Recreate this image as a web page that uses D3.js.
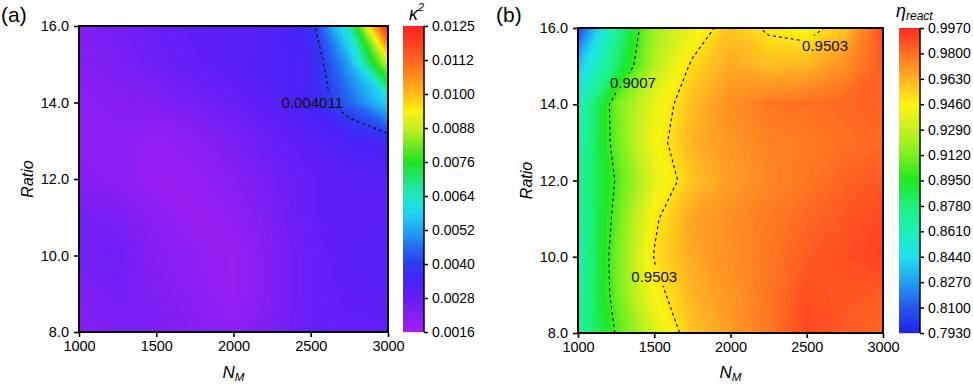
<!DOCTYPE html>
<html lang="en">
<head>
<meta charset="utf-8">
<title>contour maps</title>
<script src="https://cdn.jsdelivr.net/npm/d3@7"></script>
<style>
  body { margin: 0; background: #fff; }
  text { font-family: Arial, "Liberation Sans", sans-serif; }
</style>
</head>
<body>
<svg id="chart" width="973" height="387"></svg>
<script>
// grid of the measurements
var nmValues = [1000, 1250, 1500, 1750, 2000, 2250, 2500, 2750, 3000];
var ratioValues = [8, 9, 10, 11, 12, 13, 14, 15, 16];
var xTicks = [1000, 1500, 2000, 2500, 3000];
var yTicks = [8, 10, 12, 14, 16];

// (a) kappa^2, one row per ratio (8 -> 16), columns follow nmValues
var kappa8  = [0.0022, 0.0024, 0.0024, 0.0022, 0.0020, 0.0024, 0.0027, 0.0028, 0.0028];
var kappa9  = [0.0023, 0.0025, 0.0023, 0.0021, 0.0018, 0.0023, 0.0027, 0.0029, 0.0030];
var kappa10 = [0.0025, 0.0026, 0.0022, 0.0020, 0.0018, 0.0023, 0.0027, 0.0030, 0.0031];
var kappa11 = [0.0025, 0.0024, 0.0021, 0.0018, 0.0020, 0.0024, 0.0028, 0.0030, 0.0030];
var kappa12 = [0.0022, 0.0021, 0.0018, 0.0019, 0.0022, 0.0025, 0.0028, 0.0030, 0.0030];
var kappa13 = [0.0021, 0.0021, 0.0019, 0.0021, 0.0024, 0.0027, 0.0030, 0.0033, 0.0036];
var kappa14 = [0.0021, 0.0022, 0.0023, 0.0025, 0.0027, 0.0030, 0.0035, 0.0045, 0.0058];
var kappa15 = [0.0022, 0.0024, 0.0026, 0.0028, 0.0030, 0.0032, 0.0034, 0.0052, 0.0088];
var kappa16 = [0.0023, 0.0025, 0.0027, 0.0029, 0.0030, 0.0031, 0.0037, 0.0065, 0.0125];
var kappaTicks = [0.0016, 0.0028, 0.0040, 0.0052, 0.0064, 0.0076, 0.0088, 0.0100, 0.0112, 0.0125];
var kappaLevels = [0.004011];

// (b) eta_react
var eta8  = [0.866, 0.902, 0.935, 0.958, 0.968, 0.978, 0.990, 0.985, 0.982];
var eta9  = [0.864, 0.908, 0.945, 0.962, 0.970, 0.978, 0.988, 0.986, 0.985];
var eta10 = [0.862, 0.910, 0.951, 0.965, 0.972, 0.978, 0.985, 0.988, 0.992];
var eta11 = [0.864, 0.906, 0.948, 0.966, 0.972, 0.977, 0.982, 0.986, 0.990];
var eta12 = [0.867, 0.902, 0.938, 0.958, 0.968, 0.974, 0.978, 0.983, 0.986];
var eta13 = [0.862, 0.908, 0.944, 0.962, 0.970, 0.975, 0.977, 0.980, 0.982];
var eta14 = [0.857, 0.910, 0.940, 0.960, 0.972, 0.978, 0.980, 0.982, 0.984];
var eta15 = [0.836, 0.880, 0.925, 0.953, 0.965, 0.960, 0.962, 0.972, 0.985];
var eta16 = [0.805, 0.870, 0.920, 0.940, 0.958, 0.948, 0.944, 0.958, 0.990];
var etaTicks = [0.7930, 0.8100, 0.8270, 0.8440, 0.8610, 0.8780, 0.8950, 0.9120, 0.9290, 0.9460, 0.9630, 0.9800, 0.9970];
var etaLevels = [0.9007, 0.9503];

var svg = d3.select("#chart");
svg.append("rect").attr("width", 973).attr("height", 387).attr("fill", "#fff");

function drawPanel(o) {
  var g = svg.append("g");
  var x = d3.scaleLinear().domain([1000, 3000]).range([o.left, o.right]);
  var y = d3.scaleLinear().domain([8, 16]).range([o.bottom, o.top]);
  var n = nmValues.length, m = ratioValues.length;
  var flat = [].concat.apply([], o.rows);

  // contour grid space -> data space (values sit at cell centres)
  var gx = d3.scaleLinear().domain([0.5, n - 0.5]).range([nmValues[0], nmValues[n - 1]]);
  var gy = d3.scaleLinear().domain([0.5, m - 0.5]).range([ratioValues[0], ratioValues[m - 1]]);
  var path = d3.geoPath(d3.geoTransform({
    point: function(px, py) { this.stream.point(x(gx(px)), y(gy(py))); }
  }));

  var lo = o.ticks[0], hi = o.ticks[o.ticks.length - 1];
  var step = (hi - lo) / 140;
  var thr = d3.range(lo, hi, step);
  var color = d3.scaleLinear().domain(o.stops).range(o.colors).interpolate(d3.interpolateRgb).clamp(true);

  svg.append("clipPath").attr("id", "clip" + o.id)
    .append("rect").attr("x", o.left).attr("y", o.top)
    .attr("width", o.right - o.left).attr("height", o.bottom - o.top);

  var field = g.append("g").attr("clip-path", "url(#clip" + o.id + ")");
  field.append("rect").attr("x", o.left).attr("y", o.top)
    .attr("width", o.right - o.left).attr("height", o.bottom - o.top)
    .attr("fill", color(lo));
  field.selectAll("path.band")
    .data(d3.contours().size([n, m]).thresholds(thr)(flat))
    .enter().append("path")
    .attr("class", "band")
    .attr("d", path)
    .attr("fill", function(d) { return color(d.value + step / 2); })
    .attr("stroke", function(d) { return color(d.value + step / 2); })
    .attr("stroke-width", 0.6);

  // dashed iso-lines, cut where the labels sit
  var mask = svg.append("mask").attr("id", "mask" + o.id)
    .attr("maskUnits", "userSpaceOnUse")
    .attr("x", 0).attr("y", 0).attr("width", 973).attr("height", 387);
  mask.append("rect").attr("width", 973).attr("height", 387).attr("fill", "#fff");

  var lines = field.append("g").attr("mask", "url(#mask" + o.id + ")");
  lines.selectAll("path")
    .data(d3.contours().size([n, m]).thresholds(o.levels)(flat))
    .enter().append("path")
    .attr("d", path)
    .attr("fill", "none")
    .attr("stroke", "#111")
    .attr("stroke-width", 1.2)
    .attr("stroke-dasharray", "3,3");

  o.labels.forEach(function(l) {
    var t = g.append("text")
      .attr("x", x(l.nm)).attr("y", y(l.ratio) + 5)
      .attr("text-anchor", "middle")
      .attr("font-size", 15)
      .attr("fill", "#111")
      .text(l.text);
    var b = t.node().getBBox();
    mask.append("rect").attr("x", b.x - 2).attr("y", b.y - 1)
      .attr("width", b.width + 4).attr("height", b.height + 2).attr("fill", "#000");
  });

  // axes
  var xa = g.append("g").attr("transform", "translate(0," + o.bottom + ")")
    .call(d3.axisBottom(x).tickValues(xTicks).tickSize(5).tickPadding(4).tickFormat(d3.format("d")));
  var ya = g.append("g").attr("transform", "translate(" + o.left + ",0)")
    .call(d3.axisLeft(y).tickValues(yTicks).tickSize(5).tickPadding(5).tickFormat(d3.format(".1f")));
  [xa, ya].forEach(function(a) {
    a.select(".domain").remove();
    a.selectAll(".tick line").attr("stroke", "#000").attr("stroke-width", 1.6);
    a.selectAll(".tick text").attr("font-size", 14.5).attr("fill", "#000")
      .attr("font-family", "Arial, 'Liberation Sans', sans-serif");
  });
  g.append("rect").attr("x", o.left).attr("y", o.top)
    .attr("width", o.right - o.left).attr("height", o.bottom - o.top)
    .attr("fill", "none").attr("stroke", "#000").attr("stroke-width", 2);

  // colour bar
  var cb = d3.scaleLinear().domain(o.ticks)
    .range(o.ticks.map(function(d, i) { return o.bottom - i * (o.bottom - o.top) / (o.ticks.length - 1); }));
  var rows = d3.range(o.top, o.bottom, 1);
  g.append("g").selectAll("rect").data(rows).enter().append("rect")
    .attr("x", o.cbx).attr("y", function(d) { return d; })
    .attr("width", o.cbw).attr("height", 1.2)
    .attr("fill", function(d) { return color(cb.invert(d + 0.5)); });
  var ca = g.append("g").attr("transform", "translate(" + (o.cbx + o.cbw) + ",0)")
    .call(d3.axisRight(cb).tickValues(o.ticks).tickSize(4).tickPadding(4).tickFormat(d3.format(o.fmt)));
  ca.select(".domain").attr("stroke", "#000").attr("stroke-width", 1.5).attr("d",
    "M0," + o.top + "V" + o.bottom);
  ca.selectAll(".tick line").attr("stroke", "#000").attr("stroke-width", 1.5);
  ca.selectAll(".tick text").attr("font-size", 14).attr("fill", "#000")
    .attr("font-family", "Arial, 'Liberation Sans', sans-serif");

  // titles
  var xt = g.append("text").attr("x", (o.left + o.right) / 2).attr("y", 378)
    .attr("text-anchor", "middle").attr("font-style", "italic").attr("font-size", 17);
  xt.append("tspan").text("N");
  xt.append("tspan").attr("font-size", 11.5).attr("dy", 3).text("M");
  g.append("text")
    .attr("transform", "translate(" + o.ytx + "," + ((o.top + o.bottom) / 2) + ") rotate(-90)")
    .attr("text-anchor", "middle").attr("font-style", "italic").attr("font-size", 16)
    .text("Ratio");
  g.append("text").attr("x", o.tagx).attr("y", 22).attr("font-size", 21).text(o.tag);
}

drawPanel({
  id: "a", tag: "(a)", tagx: 1,
  left: 79, right: 388, top: 26, bottom: 332, ytx: 33,
  cbx: 403, cbw: 21,
  rows: [kappa8, kappa9, kappa10, kappa11, kappa12, kappa13, kappa14, kappa15, kappa16],
  ticks: kappaTicks, fmt: ".4f", levels: kappaLevels,
  stops: [0.0016, 0.0022, 0.0028, 0.0034, 0.0040, 0.0046, 0.0052, 0.0058, 0.0064, 0.0076, 0.0088, 0.0094, 0.0100, 0.0112, 0.0125],
  colors: ["#a21ff0", "#861ff4", "#621ff6", "#4722f5", "#2e3cf2", "#236cf0", "#20a6f2", "#20d6f0", "#20e8c4", "#22e222", "#c6ee22", "#fcf010", "#ffbc18", "#ff6420", "#ff2020"],
  labels: [{ nm: 2510, ratio: 13.99, text: "0.004011" }]
});

drawPanel({
  id: "b", tag: "(b)", tagx: 496,
  left: 578, right: 883, top: 28, bottom: 333, ytx: 532,
  cbx: 899, cbw: 21,
  rows: [eta8, eta9, eta10, eta11, eta12, eta13, eta14, eta15, eta16],
  ticks: etaTicks, fmt: ".4f", levels: etaLevels,
  stops: etaTicks,
  colors: ["#2222f2", "#2656ea", "#229ef2", "#20e0ea", "#1ef0b6", "#1ef07c", "#20e820", "#7cf020", "#c6f020", "#fcf412", "#ffb024", "#ff7022", "#ff2a20"],
  labels: [
    { nm: 1360, ratio: 14.55, text: "0.9007" },
    { nm: 1500, ratio: 9.47, text: "0.9503" },
    { nm: 2620, ratio: 15.54, text: "0.9503" }
  ]
});

// colour bar titles
var k = svg.append("text").attr("x", 409).attr("y", 20).attr("font-style", "italic").attr("font-size", 18);
k.append("tspan").text("\u03ba");
k.append("tspan").attr("font-size", 11).attr("dy", -9).text("2");
var e = svg.append("text").attr("x", 896).attr("y", 17).attr("font-style", "italic").attr("font-size", 18);
e.append("tspan").text("\u03b7");
e.append("tspan").attr("font-size", 12).attr("dy", 3).text("react");
</script>
</body>
</html>
